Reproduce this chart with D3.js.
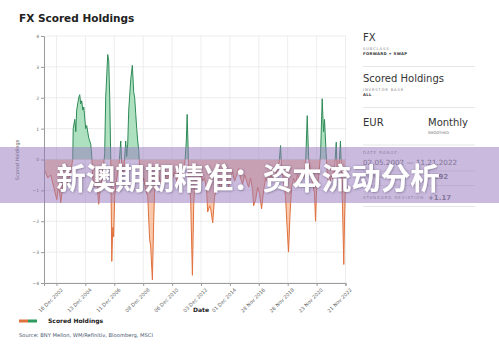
<!DOCTYPE html>
<html>
<head>
<meta charset="utf-8">
<script src="https://cdn.jsdelivr.net/npm/d3@7"></script>
<style>
  body { margin: 0; background: #fff; }
  svg { display: block; font-family: "DejaVu Sans", sans-serif; }
</style>
</head>
<body>
<div id="chart"></div>
<script>
// decimal years and smoothed scored holdings
const YEARS = [2002.10, 2002.36, 2002.56, 2002.77, 2002.98, 2003.11, 2003.25, 2003.39, 2003.53, 2003.73,
  2003.94, 2004.08, 2004.11, 2004.22, 2004.29, 2004.35, 2004.49, 2004.56, 2004.63, 2004.70,
  2004.77, 2004.84, 2004.97, 2005.04, 2005.18, 2005.32, 2005.39, 2005.46, 2005.60, 2005.73,
  2005.87, 2006.01, 2006.15, 2006.28, 2006.35, 2006.49, 2006.56, 2006.63, 2006.70, 2006.77,
  2006.84, 2006.90, 2006.97, 2007.11, 2007.25, 2007.39, 2007.46, 2007.59, 2007.73, 2007.80,
  2007.87, 2007.94, 2008.08, 2008.19, 2008.28, 2008.35, 2008.42, 2008.49, 2008.56, 2008.63,
  2008.70, 2008.83, 2008.97, 2009.11, 2009.25, 2009.38, 2009.45, 2009.57, 2009.66, 2009.73,
  2009.87, 2010.00, 2010.14, 2010.28, 2010.42, 2010.56, 2010.69, 2010.83, 2010.97, 2011.11,
  2011.24, 2011.38, 2011.52, 2011.66, 2011.80, 2011.91, 2011.97, 2012.04, 2012.07, 2012.21,
  2012.33, 2012.42, 2012.49, 2012.62, 2012.76, 2012.90, 2013.04, 2013.17, 2013.31, 2013.38,
  2013.52, 2013.59, 2013.73, 2013.86, 2014.00, 2014.14, 2014.28, 2014.41, 2014.55, 2014.69,
  2014.83, 2014.97, 2015.10, 2015.24, 2015.38, 2015.52, 2015.65, 2015.79, 2015.93, 2016.07,
  2016.21, 2016.34, 2016.48, 2016.55, 2016.69, 2016.83, 2016.96, 2017.10, 2017.24, 2017.38,
  2017.58, 2017.72, 2017.93, 2018.13, 2018.27, 2018.41, 2018.48, 2018.62, 2018.75, 2018.86,
  2018.96, 2019.06, 2019.17, 2019.31, 2019.44, 2019.58, 2019.72, 2019.86, 2020.00, 2020.13,
  2020.25, 2020.34, 2020.48, 2020.62, 2020.75, 2020.82, 2020.89, 2021.03, 2021.17, 2021.28,
  2021.37, 2021.44, 2021.55, 2021.65, 2021.79, 2021.92, 2022.06, 2022.16, 2022.25, 2022.30,
  2022.41, 2022.54, 2022.61, 2022.68, 2022.77, 2022.82, 2022.89]
const VALUES = [-0.3, -0.6, -0.5, -0.9, -1.3, -0.8, -1.4, -0.9, -0.6, -0.8,
  -0.4, 0.0, 1.0, 1.3, 0.9, 1.6, 2.0, 2.1, 1.8, 1.9,
  1.6, 1.7, 1.0, 1.1, 0.7, 0.5, 0.1, -0.6, -0.9, -0.7,
  -1.45, -0.8, -0.5, 0.2, 2.0, 3.4, 3.2, 2.0, 0.0, -3.3,
  -2.2, -2.5, -1.2, -0.6, -0.3, 0.6, -0.2, -0.5, 0.6, 0.1,
  0.5, 1.6, 2.6, 3.05, 2.2, 2.0, 1.5, 1.0, 0.6, 0.3,
  -0.4, -0.8, -0.6, -1.0, -1.2, -2.6, -2.8, -3.9, -2.0, -0.9,
  -0.6, -0.5, -0.8, -0.5, -0.4, -0.7, -0.5, -0.9, -0.6, -0.4,
  -0.7, -0.4, -0.8, -0.5, -0.2, 0.6, 1.46, 0.3, -0.6, -1.3,
  -3.75, -1.5, -0.8, -0.6, -0.8, -0.5, -0.7, -0.6, -1.0, -1.7,
  -1.5, -1.6, -2.05, -1.2, -0.9, -0.7, -1.0, -0.6, -0.8, -0.5,
  -0.9, -0.6, -0.4, -0.7, -0.5, -0.3, -0.6, -0.8, -0.5, -0.7,
  -0.9, -0.6, -1.0, -1.5, -1.3, -0.9, -1.1, -1.6, -1.0, -0.6,
  -0.8, -0.5, -0.7, -0.4, -0.3, 0.45, -0.3, -0.7, -1.2, -2.2,
  -3.0, -1.8, -0.9, -0.6, -0.8, -0.5, -0.7, -0.4, -0.6, -0.2,
  1.42, 0.1, -0.5, -0.8, -1.1, -2.0, -1.0, -0.6, 0.2, 1.97,
  0.9, 1.3, 0.2, -0.6, -0.8, -0.5, -0.7, -0.1, 0.56, -0.3,
  -0.5, 0.6, -0.4, -1.5, -3.4, -2.0, -0.7]

const X_TICK_LABELS = ["16 Dec 2002", "13 Dec 2004", "11 Dec 2006", "08 Dec 2008", "06 Dec 2010", "03 Dec 2012",
  "01 Dec 2014", "28 Nov 2016", "26 Nov 2018", "23 Nov 2020", "21 Nov 2022"]
const Y_TICKS = [-4, -3, -2, -1, 0, 1, 2, 3, 4]
const DATE_START = "05 Feb 2002"
const DATE_END = "21 Nov 2022"

const PANEL = [
  { big: "FX", label: "SUBCLASS", value: "FORWARD + SWAP" },
  { big: "Scored Holdings", label: "INVESTOR BASE", value: "ALL" },
]
const STATS = [
  { label: "DATE RANGE:", value: "02.05.2002  —  11.21.2022" },
  { label: "AVERAGE", value: "-0.92" },
  { label: "STANDARD DEVIATION", value: "+1.17" },
]

const WIDTH = 499, HEIGHT = 351
const LEFT = 44, RIGHT = 345.5, TOP = 36, BOTTOM = 283

const parseTick = d3.timeParse("%d %b %Y")
function fromDecimal(y) {
  const yr = Math.floor(y)
  const a = new Date(yr, 0, 1), b = new Date(yr + 1, 0, 1)
  return new Date(+a + (y - yr) * (b - a))
}

const data = YEARS.map((y, i) => ({ date: fromDecimal(y), value: VALUES[i] }))

const svg = d3.select("#chart").append("svg").attr("width", WIDTH).attr("height", HEIGHT)

const x = d3.scaleTime().domain([parseTick(DATE_START), parseTick(DATE_END)]).range([LEFT, RIGHT])
const y = d3.scaleLinear().domain([-4, 4]).range([BOTTOM, TOP])

// title
svg.append("text").attr("x", 19).attr("y", 22).attr("font-size", 10.5).attr("font-weight", "bold")
  .attr("fill", "#222").text("FX Scored Holdings")

// grid
const tickDates = X_TICK_LABELS.map(parseTick)
svg.append("g").selectAll("line").data(tickDates).join("line")
  .attr("x1", d => x(d)).attr("x2", d => x(d)).attr("y1", TOP).attr("y2", BOTTOM)
  .attr("stroke", "#e8e8e8").attr("stroke-width", 0.8)
svg.append("g").selectAll("line").data(Y_TICKS).join("line")
  .attr("x1", LEFT).attr("x2", RIGHT + 1).attr("y1", d => y(d)).attr("y2", d => y(d))
  .attr("stroke", "#e8e8e8").attr("stroke-width", 0.8)

// clip above / below zero
const defs = svg.append("defs")
defs.append("clipPath").attr("id", "above").append("rect")
  .attr("x", LEFT).attr("y", 0).attr("width", RIGHT - LEFT + 2).attr("height", y(0))
defs.append("clipPath").attr("id", "below").append("rect")
  .attr("x", LEFT).attr("y", y(0)).attr("width", RIGHT - LEFT + 2).attr("height", HEIGHT - y(0))

const area = d3.area().x(d => x(d.date)).y0(y(0)).y1(d => y(d.value))
const line = d3.line().x(d => x(d.date)).y(d => y(d.value))

svg.append("path").datum(data).attr("clip-path", "url(#above)")
  .attr("d", area).attr("fill", "#9fdcb5").attr("fill-opacity", 0.85)
svg.append("path").datum(data).attr("clip-path", "url(#below)")
  .attr("d", area).attr("fill", "#f7c3a2").attr("fill-opacity", 0.9)
svg.append("path").datum(data).attr("clip-path", "url(#above)")
  .attr("d", line).attr("fill", "none").attr("stroke", "#2f8a57").attr("stroke-width", 1)
svg.append("path").datum(data).attr("clip-path", "url(#below)")
  .attr("d", line).attr("fill", "none").attr("stroke", "#e0703c").attr("stroke-width", 1)

// axes
const yAxis = svg.append("g").attr("transform", `translate(${LEFT},0)`)
  .call(d3.axisLeft(y).tickValues(Y_TICKS).tickSize(3).tickPadding(2))
yAxis.selectAll("text").attr("font-size", 4.5).attr("fill", "#666").attr("font-family", "DejaVu Sans")
yAxis.selectAll("line, path").attr("stroke", "#9a9a9a")

const xAxis = svg.append("g").attr("transform", `translate(0,${BOTTOM})`)
  .call(d3.axisBottom(x).tickValues(tickDates).tickFormat((d, i) => X_TICK_LABELS[i]).tickSize(3))
xAxis.selectAll("line, path").attr("stroke", "#9a9a9a")
xAxis.selectAll("text").attr("font-size", 5).attr("fill", "#666").attr("font-family", "DejaVu Sans")
  .attr("text-anchor", "end").attr("dy", 0).attr("transform", "translate(2,3) rotate(-45)")

svg.append("text").attr("x", 201).attr("y", 312).attr("text-anchor", "middle")
  .attr("font-size", 6).attr("font-weight", "bold").attr("fill", "#222").text("Date")
svg.append("text").attr("transform", "translate(19,160) rotate(-90)").attr("text-anchor", "middle")
  .attr("font-size", 5).attr("fill", "#666").text("Scored Holdings")

// legend + source
svg.append("rect").attr("x", 19).attr("y", 319.5).attr("width", 9).attr("height", 3).attr("fill", "#e0703c")
svg.append("rect").attr("x", 28).attr("y", 319.5).attr("width", 9).attr("height", 3).attr("fill", "#2f9a5f")
svg.append("text").attr("x", 48).attr("y", 323).attr("font-size", 6).attr("font-weight", "bold")
  .attr("fill", "#222").text("Scored Holdings")
svg.append("text").attr("x", 19).attr("y", 337).attr("font-size", 5.2).attr("fill", "#4a5870")
  .text("Source: BNY Mellon, WM/Refinitiv, Bloomberg, MSCI")

// right panel
const px = 363, pw = 112
const panel = svg.append("g")
PANEL.forEach((p, i) => {
  const top = 28 + i * 41
  panel.append("text").attr("x", px).attr("y", top + 13).attr("font-size", 10).attr("fill", "#333").text(p.big)
  panel.append("text").attr("x", px).attr("y", top + 22).attr("font-size", 3.8).attr("fill", "#888")
    .attr("letter-spacing", 0.8).text(p.label)
  panel.append("text").attr("x", px).attr("y", top + 27).attr("font-size", 3.8).attr("font-weight", "bold")
    .attr("fill", "#333").attr("letter-spacing", 0.3).text(p.value)
  panel.append("line").attr("x1", px).attr("x2", px + pw).attr("y1", top + 38.5).attr("y2", top + 38.5)
    .attr("stroke", "#e6e6e6")
})
panel.append("text").attr("x", px).attr("y", 126).attr("font-size", 10).attr("fill", "#333").text("EUR")
panel.append("text").attr("x", 428).attr("y", 126).attr("font-size", 10).attr("fill", "#333").text("Monthly")
panel.append("text").attr("x", 428).attr("y", 133.5).attr("font-size", 3.6).attr("fill", "#666").text("SMOOTHED")
panel.append("line").attr("x1", px).attr("x2", px + pw).attr("y1", 145).attr("y2", 145).attr("stroke", "#e6e6e6")

STATS.forEach((s, i) => {
  const top = 145 + i * 21
  if (i === 0) {
    panel.append("text").attr("x", px).attr("y", top + 9).attr("font-size", 4).attr("fill", "#888")
      .attr("letter-spacing", 0.9).text(s.label)
    panel.append("text").attr("x", px).attr("y", top + 19.5).attr("font-size", 7.2).attr("fill", "#666").text(s.value)
  } else {
    panel.append("text").attr("x", px).attr("y", top + 12).attr("font-size", 4).attr("fill", "#888")
      .attr("letter-spacing", 0.9).text(s.label)
    panel.append("text").attr("x", 428).attr("y", top + 13).attr("font-size", 7).attr("font-weight", "bold")
      .attr("fill", "#777").text(s.value)
  }
  const ly = top + (i === 0 ? 26 : 19.5)
  panel.append("line").attr("x1", px).attr("x2", px + pw).attr("y1", ly).attr("y2", ly).attr("stroke", "#e6e6e6")
})

// overlay banner
const shadow = defs.append("filter").attr("id", "shadow").attr("x", "-10%").attr("y", "-30%")
  .attr("width", "120%").attr("height", "160%")
shadow.append("feDropShadow").attr("dx", 0.5).attr("dy", 0.5).attr("stdDeviation", 0.8)
  .attr("flood-color", "#3a2a50").attr("flood-opacity", 0.6)
svg.append("rect").attr("x", 0).attr("y", 147).attr("width", WIDTH).attr("height", 56)
  .attr("fill", "rgb(150,120,190)").attr("fill-opacity", 0.5)
svg.append("text").attr("x", 248).attr("y", 176).attr("text-anchor", "middle").attr("dominant-baseline", "central")
  .attr("font-family", "Noto Sans CJK SC").attr("font-weight", "bold").attr("font-size", 29.5)
  .attr("fill", "#fff").attr("filter", "url(#shadow)").text("新澳期期精准：资本流动分析")
</script>
</body>
</html>
